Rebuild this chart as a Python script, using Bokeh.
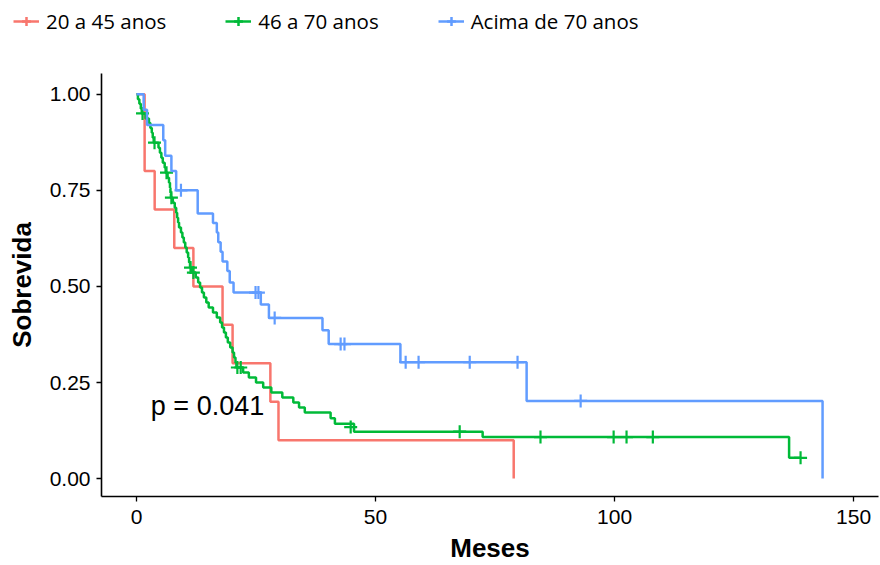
from bokeh.plotting import figure
from bokeh.layouts import column
from bokeh.models import Range1d, Legend, LegendItem, FixedTicker, Label
from bokeh.embed import file_html
from bokeh.resources import INLINE

# ---- data ----
group_names = ["20 a 45 anos", "46 a 70 anos", "Acima de 70 anos"]
group_colors = ["#F8766D", "#00BA38", "#619CFF"]

red_t = [0, 1.7, 3.8, 7.9, 11.9, 18.0, 20.1, 28.0, 29.7, 78.9]
red_s = [1.0, 0.8, 0.7, 0.6, 0.5, 0.4, 0.3, 0.2, 0.1, 0.0]
red_cens_t = []
red_cens_s = []

green_t = [0, 0.3, 0.6, 0.9, 1.1, 1.9, 2.6, 2.9, 3.2, 3.4, 3.6,
           4.6, 4.9, 5.2, 5.5, 5.9, 6.1, 6.5, 6.8, 7.0, 7.1, 7.2,
           7.6, 8.0, 8.3, 8.5, 8.7, 8.9, 9.3, 9.6, 9.9, 10.2, 10.5,
           10.8, 11.0, 11.2, 11.6, 12.4, 12.9, 13.3, 13.7, 14.1, 14.6, 15.1,
           16.0, 16.8, 17.5, 17.9, 18.3, 18.7, 19.1, 19.6, 20.1, 20.4, 20.7,
           20.9, 22.3, 23.5, 25.0, 26.5, 28.2, 30.5, 32.8, 34.0, 35.2, 40.6,
           41.5, 45.5, 72.4, 136.5, 138.9]
green_s = [1.0, 0.987, 0.975, 0.962, 0.950, 0.937, 0.925, 0.912, 0.900, 0.887, 0.874,
           0.861, 0.848, 0.835, 0.822, 0.809, 0.796, 0.783, 0.770, 0.757, 0.744, 0.731,
           0.718, 0.705, 0.692, 0.679, 0.666, 0.653, 0.640, 0.627, 0.614, 0.601, 0.588,
           0.575, 0.562, 0.549, 0.536, 0.523, 0.510, 0.497, 0.484, 0.471, 0.458, 0.445,
           0.432, 0.419, 0.406, 0.393, 0.380, 0.367, 0.354, 0.341, 0.328, 0.315, 0.302,
           0.289, 0.276, 0.263, 0.250, 0.237, 0.224, 0.211, 0.198, 0.185, 0.172, 0.157,
           0.143, 0.122, 0.108, 0.054, 0.054]
green_cens_t = [1.26, 3.77, 6.28, 7.3, 11.3, 11.9, 21.1, 21.8, 44.8, 67.6, 84.5, 99.8, 102.5, 108.0, 138.9]
green_cens_s = [0.950, 0.874, 0.796, 0.731, 0.549, 0.536, 0.289, 0.289, 0.134, 0.122, 0.108, 0.108, 0.108, 0.108, 0.054]

blue_t = [0, 1.5, 2.2, 5.6, 6.0, 7.3, 8.3, 12.8, 16.0, 16.8, 17.1, 17.6, 18.0, 19.0, 19.5,
          20.3, 26.0, 27.7, 38.9, 40.2, 55.2, 81.6, 143.5]
blue_s = [1.0, 0.96, 0.92, 0.88, 0.84, 0.80, 0.75, 0.69, 0.665, 0.64, 0.615, 0.59, 0.565,
          0.54, 0.51, 0.484, 0.453, 0.418, 0.386, 0.35, 0.303, 0.202, 0.0]
blue_cens_t = [9.3, 24.9, 25.5, 28.9, 42.7, 43.5, 56.3, 59.0, 69.7, 79.7, 92.9]
blue_cens_s = [0.75, 0.484, 0.484, 0.418, 0.35, 0.35, 0.303, 0.303, 0.303, 0.303, 0.202]

x_ticks = [0, 50, 100, 150]
y_ticks = [0.0, 0.25, 0.5, 0.75, 1.0]
y_tick_labels = {0.0: "0.00", 0.25: "0.25", 0.5: "0.50", 0.75: "0.75", 1.0: "1.00"}
p_value_text = "p = 0.041"
p_value_pos = (3.0, 0.19)

NAN = float("nan")

# ---- main figure ----
p = figure(width=880, height=492, output_backend="svg", toolbar_location=None,
           x_range=Range1d(-7.32, 155.2), y_range=Range1d(-0.0466, 1.054),
           min_border_left=101, min_border_right=2, min_border_top=0, min_border_bottom=67)
p.outline_line_color = None
p.xgrid.visible = False
p.ygrid.visible = False
p.background_fill_color = "white"
p.border_fill_color = "white"
p.frame_align = False

# ---- legend strip (separate figure above the plot) ----
lf = figure(width=880, height=73, output_backend="svg", toolbar_location=None,
            x_range=Range1d(0, 1), y_range=Range1d(0, 1),
            min_border_left=0, min_border_right=0, min_border_top=0, min_border_bottom=0)
lf.axis.visible = False
lf.grid.visible = False
lf.outline_line_color = None
lf.frame_align = False

items = []
series = [(red_t, red_s, red_cens_t, red_cens_s),
          (green_t, green_s, green_cens_t, green_cens_s),
          (blue_t, blue_s, blue_cens_t, blue_cens_s)]
for (t, s, ct, cs), name, col in zip(series, group_names, group_colors):
    p.step(t, s, mode="after", line_color=col, line_width=2.5)
    if ct:
        p.scatter(ct, cs, marker="cross", size=13, line_color=col, line_width=2.2)
    # legend key glyphs (no visible data, same style)
    k_line = lf.line([NAN, NAN], [NAN, NAN], line_color=col, line_width=2.5)
    k_c = lf.scatter([NAN], [NAN], marker="cross", size=15, line_color=col, line_width=2.5)
    items.append(LegendItem(label=name, renderers=[k_line, k_c]))

lab = Label(x=p_value_pos[0], y=p_value_pos[1], text=p_value_text, text_font="Liberation Sans",
            text_font_size="27px", text_color="black", text_baseline="middle", text_align="left")
p.add_layout(lab)

legend = Legend(items=items, orientation="horizontal", location=(13, 38),
                label_text_font="Open Sans", label_text_font_size="20.5px",
                label_text_color="black", glyph_width=26, glyph_height=22,
                spacing=59, padding=0, margin=0, label_standoff=7,
                border_line_color=None, background_fill_alpha=0)
lf.add_layout(legend)

for ax in (p.xaxis[0], p.yaxis[0]):
    ax.axis_line_color = "black"
    ax.axis_line_width = 1.6
    ax.major_tick_line_color = "black"
    ax.major_tick_line_width = 1.3
    ax.major_tick_out = 5
    ax.major_tick_in = 0
    ax.minor_tick_line_color = None
    ax.major_label_text_font = "Liberation Sans"
    ax.major_label_text_font_size = "21px"
    ax.major_label_text_color = "black"
    ax.axis_label_text_font = "Liberation Sans"
    ax.axis_label_text_font_size = "26px"
    ax.axis_label_text_font_style = "bold"
    ax.axis_label_text_color = "black"

p.xaxis[0].ticker = FixedTicker(ticks=x_ticks)
p.yaxis[0].ticker = FixedTicker(ticks=y_ticks)
p.yaxis[0].major_label_overrides = y_tick_labels
p.xaxis[0].axis_label = "Meses"
p.yaxis[0].axis_label = "Sobrevida"
p.xaxis[0].major_label_standoff = 8
p.yaxis[0].major_label_standoff = 6
p.xaxis[0].axis_label_standoff = 6
p.yaxis[0].axis_label_standoff = 10

layout = column(lf, p, spacing=0)
open("out.html", "w").write(file_html(layout, INLINE))
